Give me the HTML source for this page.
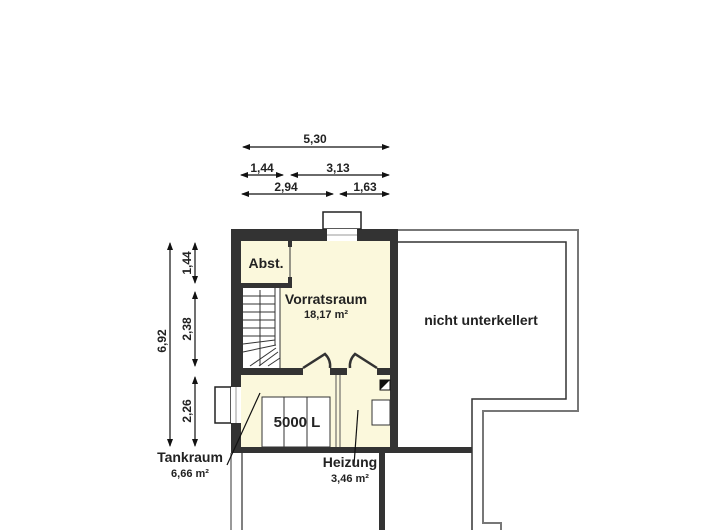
<!DOCTYPE html>
<html><head><meta charset="utf-8"><style>
html,body{margin:0;padding:0;background:#fff;}
svg{display:block;font-family:"Liberation Sans",sans-serif;}
</style></head><body>
<svg width="720" height="530" viewBox="0 0 720 530" xmlns="http://www.w3.org/2000/svg">
<defs>
<marker id="a" markerWidth="8" markerHeight="6" refX="7" refY="3" orient="auto-start-reverse" markerUnits="userSpaceOnUse"><path d="M0,0 L8,3 L0,6 z" fill="#111"/></marker>
</defs>
<!-- right unexcavated area -->
<path d="M398,230 H578 V411 H483 V523 H501 V530" fill="none" stroke="#777" stroke-width="2"/>
<path d="M398,242 H566 V399 H472 V530" fill="none" stroke="#333" stroke-width="1.5"/>
<!-- lower lines -->
<line x1="231" y1="453" x2="231" y2="530" stroke="#777" stroke-width="1.5"/>
<line x1="242" y1="453" x2="242" y2="530" stroke="#555" stroke-width="1.5"/>
<rect x="379" y="453" width="6" height="77" fill="#333"/>
<!-- floor fill -->
<rect x="241" y="241" width="150" height="206" fill="#fbf8dc"/>
<!-- outer walls -->
<rect x="231" y="229" width="167" height="12" fill="#333"/>
<rect x="231" y="229" width="10" height="224" fill="#333"/>
<rect x="390" y="229" width="8" height="224" fill="#333"/>
<rect x="231" y="447" width="241" height="6" fill="#333"/>
<!-- top window -->
<rect x="323" y="212" width="38" height="17" fill="#fff" stroke="#222" stroke-width="1.5"/>
<rect x="327" y="229" width="30" height="12" fill="#fff"/>
<line x1="327" y1="235" x2="357" y2="235" stroke="#999"/>
<!-- left window -->
<rect x="215" y="387" width="16" height="36" fill="#fff" stroke="#222" stroke-width="1.5"/>
<rect x="231" y="387" width="10" height="36" fill="#fff"/>
<line x1="236" y1="387" x2="236" y2="423" stroke="#999"/>
<!-- Abst wall -->
<rect x="288" y="241" width="4" height="6" fill="#333"/>
<rect x="288" y="277" width="4" height="10" fill="#333"/>
<line x1="290" y1="247" x2="290" y2="277" stroke="#333" stroke-width="1"/>
<rect x="241" y="283" width="51" height="5" fill="#333"/>
<!-- stair -->
<rect x="241" y="288" width="39" height="80" fill="#fff"/>
<line x1="275" y1="288" x2="275" y2="345" stroke="#333"/>
<line x1="280" y1="288" x2="280" y2="368" stroke="#333"/>
<g stroke="#333" stroke-width="1">
<line x1="243" y1="296" x2="275" y2="296"/><line x1="243" y1="304" x2="275" y2="304"/>
<line x1="243" y1="312" x2="275" y2="312"/><line x1="243" y1="320" x2="275" y2="320"/>
<line x1="243" y1="328" x2="275" y2="328"/><line x1="243" y1="336" x2="275" y2="336"/>
<line x1="243" y1="344" x2="275" y2="340"/><line x1="243" y1="352" x2="276" y2="345"/>
<line x1="250" y1="366" x2="276" y2="348"/><line x1="259" y1="366" x2="278" y2="352"/>
<line x1="268" y1="366" x2="280" y2="358"/>
<line x1="260" y1="290" x2="260" y2="366"/>
</g>
<rect x="241" y="288" width="2" height="80" fill="#333"/>
<!-- mid wall -->
<rect x="241" y="368" width="62" height="7" fill="#333"/>
<rect x="330" y="368" width="17" height="7" fill="#333"/>
<rect x="377" y="368" width="14" height="7" fill="#333"/>
<!-- doors -->
<path d="M303,368 L325,354 Q331,360 330,368" fill="none" stroke="#333" stroke-width="2.5"/>
<path d="M377,368 L355,354 Q349,360 350,368" fill="none" stroke="#333" stroke-width="2.5"/>
<!-- partition -->
<line x1="336" y1="375" x2="336" y2="447" stroke="#555" stroke-width="1"/>
<line x1="340" y1="375" x2="340" y2="447" stroke="#555" stroke-width="1"/>
<!-- tank -->
<rect x="262" y="397" width="68" height="50" fill="#fff" stroke="#333" stroke-width="1"/>
<line x1="284" y1="397" x2="284" y2="447" stroke="#333"/>
<line x1="307" y1="397" x2="307" y2="447" stroke="#333"/>
<!-- heizung items -->
<rect x="380" y="380" width="10" height="10" fill="#fff" stroke="#111"/>
<path d="M380,380 H390 L380,390 Z" fill="#111"/>
<rect x="372" y="400" width="18" height="25" fill="#fff" stroke="#333"/>
<!-- leaders -->
<line x1="260" y1="393" x2="227" y2="465" stroke="#111" stroke-width="1.2"/>
<line x1="358" y1="410" x2="354" y2="465" stroke="#111" stroke-width="1.2"/>
<!-- dimensions -->
<g stroke="#111" stroke-width="1.2" fill="none">
<line x1="243" y1="147" x2="389" y2="147" marker-start="url(#a)" marker-end="url(#a)"/>
<line x1="241" y1="175" x2="283" y2="175" marker-start="url(#a)" marker-end="url(#a)"/>
<line x1="291" y1="175" x2="389" y2="175" marker-start="url(#a)" marker-end="url(#a)"/>
<line x1="242" y1="194" x2="333" y2="194" marker-start="url(#a)" marker-end="url(#a)"/>
<line x1="340" y1="194" x2="389" y2="194" marker-start="url(#a)" marker-end="url(#a)"/>
<line x1="170" y1="243" x2="170" y2="446" marker-start="url(#a)" marker-end="url(#a)"/>
<line x1="195" y1="243" x2="195" y2="283" marker-start="url(#a)" marker-end="url(#a)"/>
<line x1="195" y1="292" x2="195" y2="366" marker-start="url(#a)" marker-end="url(#a)"/>
<line x1="195" y1="377" x2="195" y2="446" marker-start="url(#a)" marker-end="url(#a)"/>
</g>
<g font-size="12" fill="#222" text-anchor="middle" font-weight="bold">
<text x="315" y="143">5,30</text>
<text x="262" y="172">1,44</text>
<text x="338" y="172">3,13</text>
<text x="286" y="191">2,94</text>
<text x="365" y="191">1,63</text>
<text transform="translate(166,341) rotate(-90)">6,92</text>
<text transform="translate(191,263) rotate(-90)">1,44</text>
<text transform="translate(191,329) rotate(-90)">2,38</text>
<text transform="translate(191,411) rotate(-90)">2,26</text>
</g>
<g fill="#222" font-weight="bold" text-anchor="middle">
<text x="266" y="268" font-size="14">Abst.</text>
<text x="326" y="304" font-size="14">Vorratsraum</text>
<text x="326" y="318" font-size="11">18,17 m²</text>
<text x="481" y="325" font-size="14">nicht unterkellert</text>
<text x="297" y="427" font-size="15">5000 L</text>
<text x="190" y="462" font-size="14">Tankraum</text>
<text x="190" y="477" font-size="11">6,66 m²</text>
<text x="350" y="467" font-size="14">Heizung</text>
<text x="350" y="482" font-size="11">3,46 m²</text>
</g>
</svg>
</body></html>
